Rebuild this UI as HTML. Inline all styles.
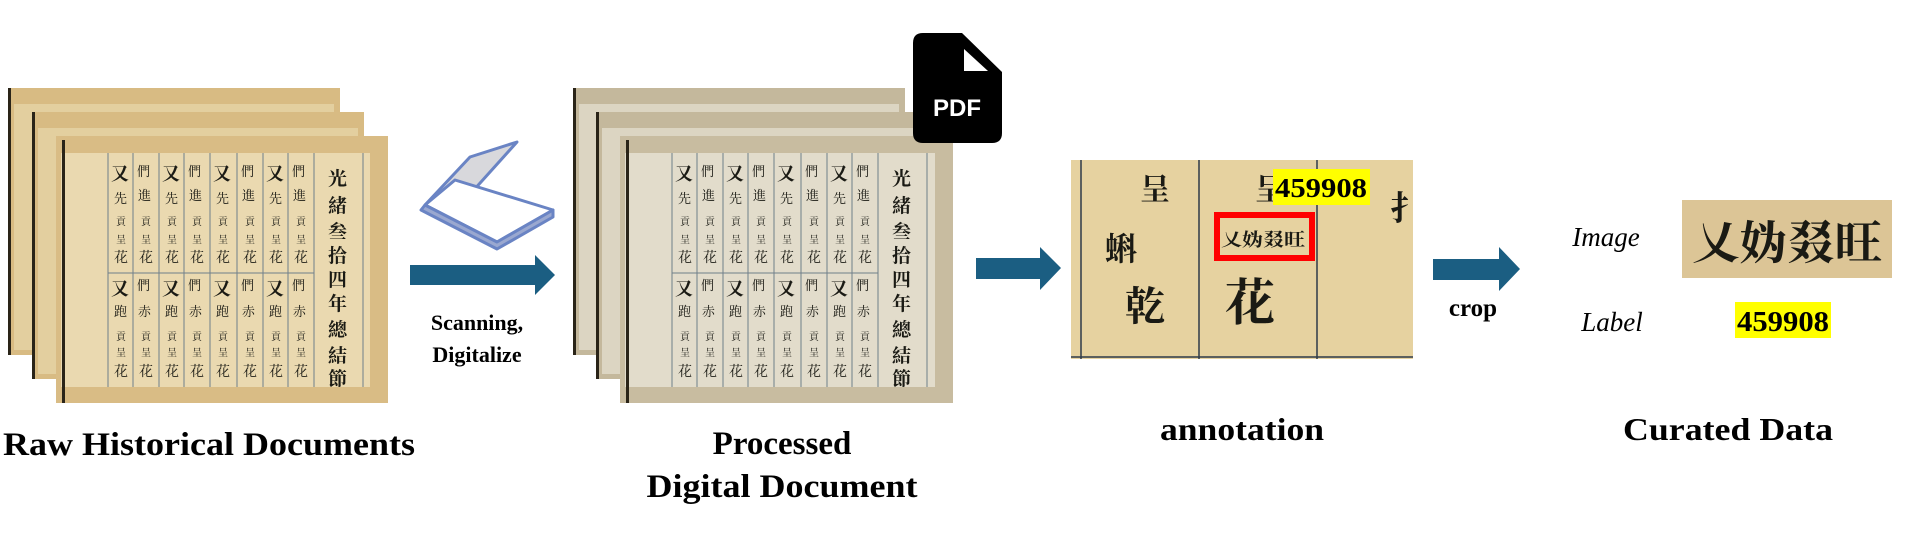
<!DOCTYPE html>
<html><head><meta charset="utf-8"><style>
html,body{margin:0;padding:0;background:#fff;}
svg{display:block;}
.t{font-family:"Liberation Serif",serif;font-weight:bold;fill:#000;}
.c{font-family:"Noto Serif CJK SC","Noto Sans CJK SC",serif;fill:#1a1a14;}
</style></head><body>
<svg width="1920" height="547" viewBox="0 0 1920 547" xmlns="http://www.w3.org/2000/svg">
<defs>
<g id="content">
  <g stroke="#6f7f8a" stroke-width="1" fill="none">
    <line x1="108" y1="153" x2="108" y2="387"/><line x1="133" y1="153" x2="133" y2="387"/>
    <line x1="159" y1="153" x2="159" y2="387"/><line x1="184" y1="153" x2="184" y2="387"/>
    <line x1="210" y1="153" x2="210" y2="387"/><line x1="237" y1="153" x2="237" y2="387"/>
    <line x1="263" y1="153" x2="263" y2="387"/><line x1="288" y1="153" x2="288" y2="387"/>
    <line x1="314" y1="153" x2="314" y2="387"/><line x1="363" y1="153" x2="363" y2="387"/>
    <line x1="108" y1="273" x2="314" y2="273"/>
  </g>
  <g class="c" font-size="18" font-weight="bold">
    <text x="111" y="180">又</text><text x="162" y="180">又</text><text x="213" y="180">又</text><text x="266" y="180">又</text>
    <text x="111" y="295">又</text><text x="162" y="295">又</text><text x="213" y="295">又</text><text x="266" y="295">又</text>
  </g>
  <g class="c" font-size="13">
    <text x="114" y="203">先</text><text x="165" y="203">先</text><text x="216" y="203">先</text><text x="269" y="203">先</text>
    <text x="137" y="176">們</text><text x="188" y="176">們</text><text x="241" y="176">們</text><text x="292" y="176">們</text>
    <text x="138" y="200">進</text><text x="189" y="200">進</text><text x="242" y="200">進</text><text x="293" y="200">進</text>
    <text x="114" y="316">跑</text><text x="165" y="316">跑</text><text x="216" y="316">跑</text><text x="269" y="316">跑</text>
    <text x="137" y="290">們</text><text x="188" y="290">們</text><text x="241" y="290">們</text><text x="292" y="290">們</text>
    <text x="138" y="316">赤</text><text x="189" y="316">赤</text><text x="242" y="316">赤</text><text x="293" y="316">赤</text>
  </g>
  <g class="c" font-size="10">
    <text x="116" y="225">貢</text><text x="141" y="225">貢</text><text x="167" y="225">貢</text><text x="192" y="225">貢</text><text x="218" y="225">貢</text><text x="245" y="225">貢</text><text x="271" y="225">貢</text><text x="296" y="225">貢</text>
    <text x="116" y="243">呈</text><text x="141" y="243">呈</text><text x="167" y="243">呈</text><text x="192" y="243">呈</text><text x="218" y="243">呈</text><text x="245" y="243">呈</text><text x="271" y="243">呈</text><text x="296" y="243">呈</text>
    <text x="116" y="340">貢</text><text x="141" y="340">貢</text><text x="167" y="340">貢</text><text x="192" y="340">貢</text><text x="218" y="340">貢</text><text x="245" y="340">貢</text><text x="271" y="340">貢</text><text x="296" y="340">貢</text>
    <text x="116" y="356">呈</text><text x="141" y="356">呈</text><text x="167" y="356">呈</text><text x="192" y="356">呈</text><text x="218" y="356">呈</text><text x="245" y="356">呈</text><text x="271" y="356">呈</text><text x="296" y="356">呈</text>
  </g>
  <g class="c" font-size="14">
    <text x="114" y="262">花</text><text x="139" y="262">花</text><text x="165" y="262">花</text><text x="190" y="262">花</text><text x="216" y="262">花</text><text x="243" y="262">花</text><text x="269" y="262">花</text><text x="294" y="262">花</text>
    <text x="114" y="376">花</text><text x="139" y="376">花</text><text x="165" y="376">花</text><text x="190" y="376">花</text><text x="216" y="376">花</text><text x="243" y="376">花</text><text x="269" y="376">花</text><text x="294" y="376">花</text>
  </g>
  <g class="c" font-size="19" font-weight="bold">
    <text x="328" y="185">光</text><text x="328" y="212">緒</text><text x="328" y="238">叁</text><text x="328" y="262">拾</text>
    <text x="328" y="286">四</text><text x="328" y="310">年</text><text x="328" y="336">總</text><text x="328" y="362">結</text><text x="328" y="385">節</text>
  </g>
</g>
</defs>

<!-- Raw documents -->
<rect x="8" y="88" width="332" height="267" fill="#d8bb83"/>
<rect x="14" y="104" width="320" height="246" fill="#e3cf9f"/>
<rect x="8" y="88" width="3" height="267" fill="#2a2418"/>
<rect x="32" y="112" width="332" height="267" fill="#d8bb83"/>
<rect x="38" y="128" width="320" height="246" fill="#e3cf9f"/>
<rect x="32" y="112" width="3" height="267" fill="#2a2418"/>
<rect x="56" y="136" width="332" height="267" fill="#d9bc85"/>
<rect x="61" y="153" width="309" height="234" fill="#ead9b0"/>
<rect x="62" y="140" width="3" height="263" fill="#2a2418"/>
<use href="#content"/>

<!-- Scanner icon -->
<g stroke="#6a84c4" stroke-width="3" stroke-linejoin="round">
  <path d="M425 205 L470 157 L517 142 L472 192 Z" fill="#d8d8dc"/>
  <path d="M425 205 L455 180 L553 210 L497 242 Z" fill="#fff"/>
  <path d="M425 205 L497 242 L553 210 L553 217 L497 249 L421 210 Z" fill="#9aa8d0"/>
</g>

<!-- Arrow 1 -->
<polygon points="410,265 535,265 535,255 555,275 535,295 535,285 410,285" fill="#1b5e82"/>
<text class="t" x="477" y="330" font-size="22" text-anchor="middle">Scanning,</text>
<text class="t" x="477" y="362" font-size="22" text-anchor="middle">Digitalize</text>

<!-- Processed documents -->
<rect x="573" y="88" width="332" height="267" fill="#c4b89c"/>
<rect x="579" y="104" width="320" height="246" fill="#dcd5c2"/>
<rect x="573" y="88" width="3" height="267" fill="#2a2418"/>
<rect x="596" y="112" width="332" height="267" fill="#c4b89c"/>
<rect x="602" y="128" width="320" height="246" fill="#dcd5c2"/>
<rect x="596" y="112" width="3" height="267" fill="#2a2418"/>
<rect x="620" y="136" width="333" height="267" fill="#c8bca0"/>
<rect x="625" y="153" width="310" height="234" fill="#e2dccb"/>
<rect x="626" y="140" width="3" height="263" fill="#2a2418"/>
<use href="#content" transform="translate(564,0)"/>

<!-- PDF icon -->
<path d="M923 33 L962 33 L1002 72 L1002 133 Q1002 143 992 143 L923 143 Q913 143 913 133 L913 43 Q913 33 923 33 Z" fill="#000"/>
<polygon points="964,49 964,71 988,71" fill="#fff"/>
<text x="957" y="116" font-family="Liberation Sans,sans-serif" font-weight="bold" font-size="24" fill="#fff" text-anchor="middle">PDF</text>

<text class="t" x="209" y="455" font-size="33" text-anchor="middle" textLength="412" lengthAdjust="spacingAndGlyphs">Raw Historical Documents</text>
<text class="t" x="782" y="454" font-size="33" text-anchor="middle">Processed</text>
<text class="t" x="782" y="497" font-size="33" text-anchor="middle" textLength="271" lengthAdjust="spacingAndGlyphs">Digital Document</text>

<!-- Arrow 2 -->
<polygon points="976,258 1040,258 1040,247 1061,268 1040,290 1040,279 976,279" fill="#1b5e82"/>

<!-- Annotation image -->
<rect x="1071" y="160" width="342" height="199" fill="#e6d2a0"/>
<g stroke="#2f3a48" stroke-width="1.5">
  <line x1="1081" y1="160" x2="1081" y2="359"/>
  <line x1="1199" y1="160" x2="1199" y2="359"/>
  <line x1="1317" y1="160" x2="1317" y2="359"/>
  <line x1="1071" y1="357" x2="1413" y2="357"/>
</g>
<g class="c" font-weight="bold">
  <text x="1140" y="200" font-size="30">呈</text>
  <text x="1255" y="200" font-size="30">呈</text>
  <text x="1105" y="260" font-size="32">蝌</text>
  <text x="1125" y="320" font-size="40">乾</text>
  <text x="1225" y="320" font-size="50">花</text>
  <text x="1390" y="220" font-size="34">扌</text>
</g>
<rect x="1273" y="169" width="97" height="36" fill="#ffff00"/>
<text class="t" x="1321" y="197" font-size="27" text-anchor="middle" textLength="92" lengthAdjust="spacingAndGlyphs">459908</text>
<text class="c" x="1221" y="246" font-size="18" font-weight="bold" textLength="84" lengthAdjust="spacingAndGlyphs">乂妫叕旺</text>
<rect x="1217" y="215" width="95" height="43" fill="none" stroke="#ff0000" stroke-width="6"/>

<!-- Arrow 3 -->
<polygon points="1433,259 1499,259 1499,247 1520,269 1499,291 1499,280 1433,280" fill="#1b5e82"/>
<text class="t" x="1473" y="316" font-size="25" text-anchor="middle">crop</text>

<text x="1606" y="246" font-family="Liberation Serif,serif" font-style="italic" font-size="27" text-anchor="middle" fill="#000">Image</text>
<text x="1612" y="331" font-family="Liberation Serif,serif" font-style="italic" font-size="27" text-anchor="middle" fill="#000">Label</text>
<rect x="1682" y="200" width="210" height="78" fill="#dcc596"/>
<text class="c" x="1692" y="259" font-size="46" font-weight="bold" textLength="190" lengthAdjust="spacingAndGlyphs">乂妫叕旺</text>
<rect x="1735" y="302" width="96" height="36" fill="#ffff00"/>
<text class="t" x="1783" y="331" font-size="28" text-anchor="middle" textLength="92" lengthAdjust="spacingAndGlyphs">459908</text>

<text class="t" x="1242" y="440" font-size="32" text-anchor="middle" textLength="164" lengthAdjust="spacingAndGlyphs">annotation</text>
<text class="t" x="1728" y="440" font-size="32" text-anchor="middle" textLength="210" lengthAdjust="spacingAndGlyphs">Curated Data</text>
</svg>
</body></html>
